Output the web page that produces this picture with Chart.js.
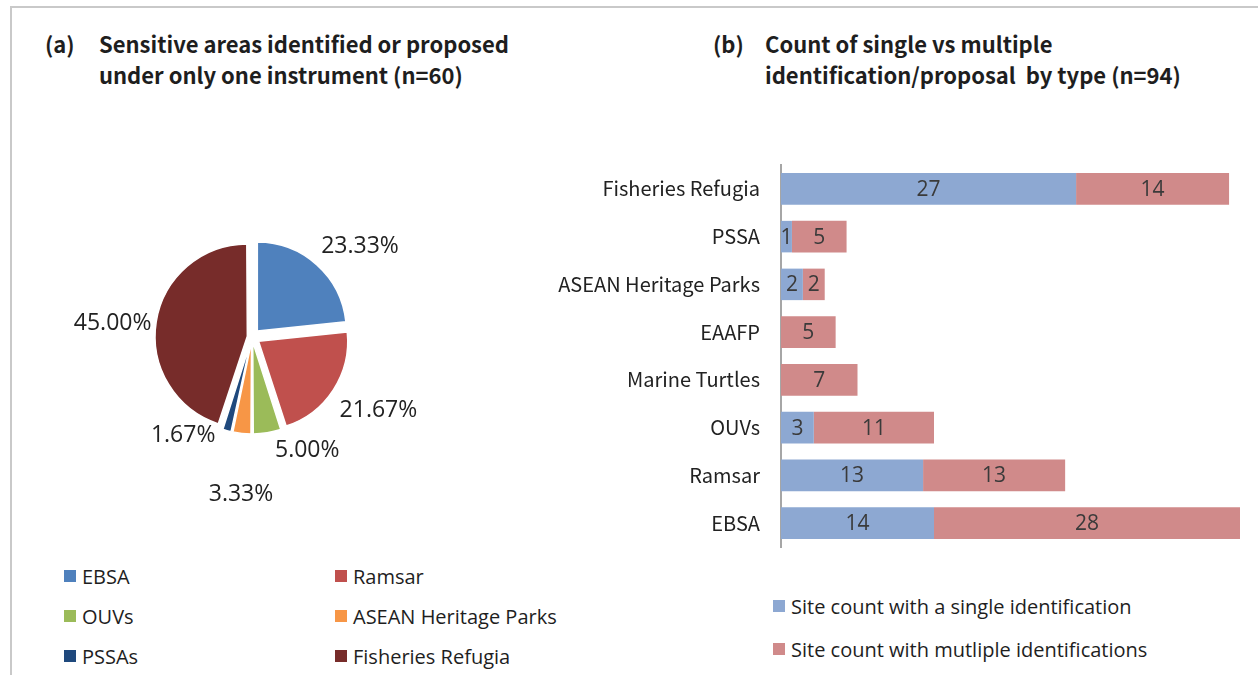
<!DOCTYPE html>
<html>
<head>
<meta charset="utf-8">
<script src="https://cdn.jsdelivr.net/npm/chart.js@4.4.1/dist/chart.umd.min.js"></script>
<style>
  html, body { margin: 0; padding: 0; background: #fff; }
  body { width: 1258px; height: 675px; position: relative; overflow: hidden; font-family: "Open Sans", sans-serif; }
  #frame { position: absolute; left: 10px; top: 6px; width: 1250px; height: 675px; border-top: 2px solid #c9c9c9; border-left: 2px solid #c9c9c9; }
  .title { position: absolute; font-family: "Noto Sans CJK KR", "Noto Sans", sans-serif; font-weight: 700; font-size: 22px; color: #1e1e1e; line-height: 31px; }
  .title .tag { position: absolute; left: 0; top: 0; }
  .title .txt { position: absolute; top: 0; white-space: nowrap; }
  #pieWrap { position: absolute; left: 52px; top: 137px; width: 400px; height: 400px; }
  #barWrap { position: absolute; left: 530px; top: 132px; width: 728px; height: 448px; }
  .legend { position: absolute; font-family: "Open Sans", sans-serif; font-size: 20px; color: #1e1e1e; }
  .legend .item { position: absolute; white-space: nowrap; display: flex; align-items: center; height: 24px; }
  .legend .box { width: 12px; height: 12px; margin-right: 6px; flex: none; }
</style>
</head>
<body>
<div id="frame"></div>

<div class="title" style="left:45px; top:28px; width:580px; height:70px;">
  <span class="tag">(a)</span>
  <span class="txt" style="left:54px;">Sensitive areas identified or proposed<br>under only one instrument (n=60)</span>
</div>
<div class="title" style="left:713px; top:28px; width:540px; height:70px;">
  <span class="tag">(b)</span>
  <span class="txt" style="left:52px;">Count of single vs multiple<br>identification/proposal&nbsp; by type (n=94)</span>
</div>

<div id="pieWrap"><canvas id="pie"></canvas></div>
<div id="pieLegend" class="legend"></div>
<div id="barWrap"><canvas id="bar"></canvas></div>
<div id="barLegend" class="legend"></div>

<script>
// ---------- data ----------
const pieCategories = ['EBSA', 'Ramsar', 'OUVs', 'ASEAN Heritage Parks', 'PSSAs', 'Fisheries Refugia'];
const pieShares = [23.33, 21.67, 5.00, 3.33, 1.67, 45.00];

const barCategories = ['Fisheries Refugia', 'PSSA', 'ASEAN Heritage Parks', 'EAAFP', 'Marine Turtles', 'OUVs', 'Ramsar', 'EBSA'];
const singleCounts = [27, 1, 2, 0, 0, 3, 13, 14];
const multipleCounts = [14, 5, 2, 5, 7, 11, 13, 28];
const barSeriesNames = ['Site count with a single identification', 'Site count with mutliple identifications'];

// ---------- styles ----------
const pieColors = ['#4F81BD', '#C0504D', '#9BBB59', '#F79646', '#1F497D', '#772C2A'];
const barColors = ['#8DA8D2', '#D08A8A'];
const textColor = '#222222';

// label placement around the pie (angle shift in degrees, gap beyond the rim in px)
const pieLabelShift = [8, -3, -17, -2, 20, -3.5];
const pieLabelGap = [52, 57, 37, 69, 31, 51];

const pieLabelPlugin = {
  id: 'pieLabels',
  afterDatasetsDraw(chart) {
    const ctx = chart.ctx;
    const meta = chart.getDatasetMeta(0);
    ctx.save();
    ctx.font = '23px "Open Sans", sans-serif';
    ctx.fillStyle = textColor;
    ctx.textAlign = 'center';
    ctx.textBaseline = 'middle';
    meta.data.forEach((arc, i) => {
      const p = arc.getProps(['x', 'y', 'startAngle', 'endAngle', 'outerRadius'], true);
      const a = (p.startAngle + p.endAngle) / 2 + pieLabelShift[i] * Math.PI / 180;
      const r = p.outerRadius + pieLabelGap[i];
      const v = chart.data.datasets[0].data[i];
      ctx.fillText(v.toFixed(2) + '%', p.x + r * Math.cos(a), p.y + r * Math.sin(a));
    });
    ctx.restore();
  }
};

// explode every slice by the same distance
const explode = 8;
function sliceOffset(c) {
  const data = c.dataset.data;
  const total = data.reduce((s, v) => s + v, 0);
  const circ = data[c.dataIndex] / total * Math.PI * 2;
  return 4 * explode / (2 - Math.sin(Math.min(Math.PI, circ)));
}

const pieChart = new Chart(document.getElementById('pie'), {
  type: 'pie',
  data: {
    labels: pieCategories,
    datasets: [{
      data: pieShares,
      backgroundColor: pieColors,
      borderColor: '#ffffff',
      borderWidth: 1.5,
      offset: sliceOffset,
      hoverOffset: 0
    }]
  },
  options: {
    responsive: true,
    maintainAspectRatio: false,
    animation: false,
    radius: 89,
    layout: { padding: 0 },
    plugins: { legend: { display: false }, tooltip: { enabled: false } }
  },
  plugins: [pieLabelPlugin]
});

const barLabelPlugin = {
  id: 'barLabels',
  afterDatasetsDraw(chart) {
    const ctx = chart.ctx;
    ctx.save();
    ctx.font = '21px "Open Sans", sans-serif';
    ctx.fillStyle = '#3a3a3a';
    ctx.textAlign = 'center';
    ctx.textBaseline = 'middle';
    chart.data.datasets.forEach((ds, di) => {
      const meta = chart.getDatasetMeta(di);
      meta.data.forEach((bar, i) => {
        const v = ds.data[i];
        if (!v) return;
        const p = bar.getProps(['x', 'y', 'base'], true);
        ctx.fillText(String(v), (p.x + p.base) / 2, p.y + 1);
      });
    });
    ctx.restore();
  }
};

const barChart = new Chart(document.getElementById('bar'), {
  type: 'bar',
  data: {
    labels: barCategories,
    datasets: [
      { label: barSeriesNames[0], data: singleCounts, backgroundColor: barColors[0] },
      { label: barSeriesNames[1], data: multipleCounts, backgroundColor: barColors[1] }
    ]
  },
  options: {
    indexAxis: 'y',
    responsive: true,
    maintainAspectRatio: false,
    animation: false,
    layout: { padding: { top: 0, right: 18, bottom: 0, left: 0 } },
    datasets: { bar: { categoryPercentage: 1, barPercentage: 0.66, borderWidth: 0 } },
    scales: {
      x: { stacked: true, min: 0, max: 42, display: false },
      y: {
        stacked: true,
        grid: { display: false, drawTicks: false },
        border: { display: true, color: '#a6a6a6', width: 2 },
        ticks: { color: textColor, padding: 21, font: { family: '"Noto Sans CJK KR", "Noto Sans", sans-serif', size: 20 } },
        afterFit(axis) { axis.width = 251; }
      }
    },
    plugins: { legend: { display: false }, tooltip: { enabled: false } }
  },
  plugins: [barLabelPlugin]
});

// ---------- HTML legends built from the charts ----------
function addItem(container, color, text, left, top) {
  const it = document.createElement('div');
  it.className = 'item';
  it.style.left = left + 'px';
  it.style.top = top + 'px';
  const b = document.createElement('span');
  b.className = 'box';
  b.style.background = color;
  const t = document.createElement('span');
  t.textContent = text;
  it.appendChild(b); it.appendChild(t);
  container.appendChild(it);
}
const pl = document.getElementById('pieLegend');
pl.style.left = '64px'; pl.style.top = '564px';
pieChart.data.labels.forEach((lab, i) => {
  addItem(pl, pieChart.data.datasets[0].backgroundColor[i], lab, (i % 2) * 271, Math.floor(i / 2) * 40);
});
const bl = document.getElementById('barLegend');
bl.style.left = '773px'; bl.style.top = '594px';
barChart.data.datasets.forEach((ds, i) => {
  addItem(bl, ds.backgroundColor, ds.label, 0, i * 43);
});
</script>
</body>
</html>
